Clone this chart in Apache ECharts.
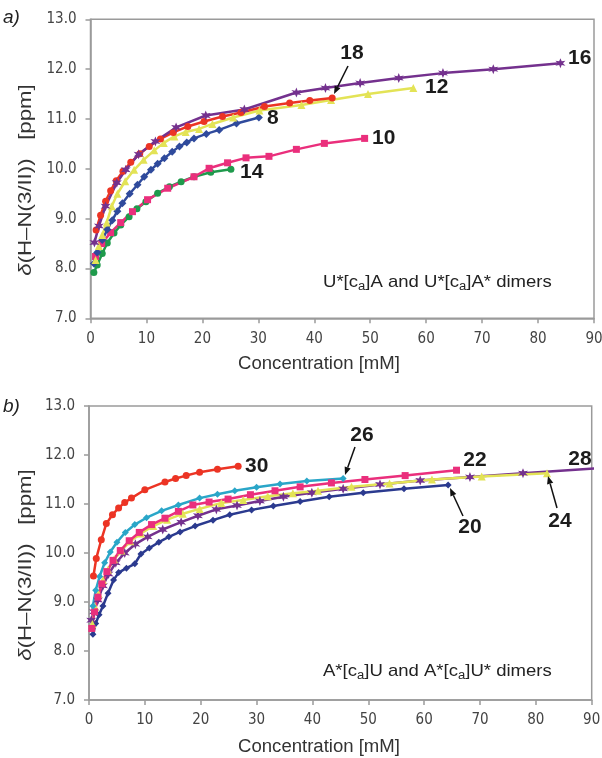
<!DOCTYPE html>
<html><head><meta charset="utf-8">
<script src="https://cdn.jsdelivr.net/npm/echarts@6/dist/echarts.min.js"></script>
<style>html,body{margin:0;padding:0;background:#fff}#c{width:602px;height:758px}</style>
</head><body><div id="c"></div>
<script>
// ---------- Panel a) U*[ca]A dimers ----------
const a16x = [0.7, 1.5, 2.7, 4.7, 6.3, 8.6, 11.6, 15.3, 20.6, 27.5, 36.8, 42.0, 48.2, 55.1, 63.0, 72.0, 84.0];
const a16y = [8.52, 8.85, 9.25, 9.72, 9.98, 10.29, 10.55, 10.83, 11.07, 11.19, 11.53, 11.62, 11.72, 11.82, 11.92, 12.00, 12.12];
const a18x = [1.0, 1.8, 2.7, 3.6, 4.6, 5.8, 7.2, 8.8, 10.5, 12.5, 14.8, 17.4, 20.3, 23.6, 26.9, 31.1, 35.6, 39.2, 43.2];
const a18y = [8.77, 9.07, 9.35, 9.56, 9.76, 9.95, 10.13, 10.30, 10.45, 10.60, 10.73, 10.85, 10.95, 11.05, 11.13, 11.25, 11.32, 11.37, 11.42];
const a12x = [0.9, 1.5, 2.1, 2.9, 3.8, 4.8, 6.2, 7.8, 9.5, 11.4, 13.1, 15.0, 17.0, 19.4, 21.8, 25.5, 30.2, 37.7, 43.0, 49.6, 57.7];
const a12y = [8.17, 8.45, 8.67, 8.92, 9.25, 9.50, 9.75, 9.98, 10.18, 10.37, 10.52, 10.65, 10.74, 10.80, 10.90, 11.03, 11.17, 11.28, 11.38, 11.50, 11.62];
const a8x = [0.6, 1.2, 2.1, 3.0, 3.9, 4.8, 5.7, 7.0, 8.4, 9.6, 10.8, 12.0, 13.2, 14.6, 15.9, 17.2, 18.5, 20.7, 23.0, 26.1, 30.1];
const a8y = [8.10, 8.32, 8.57, 8.78, 8.97, 9.15, 9.31, 9.50, 9.68, 9.84, 9.98, 10.10, 10.21, 10.34, 10.45, 10.53, 10.61, 10.70, 10.78, 10.91, 11.03];
const a10x = [0.9, 2.0, 3.6, 5.4, 7.5, 10.2, 13.8, 18.5, 21.2, 24.5, 27.8, 31.9, 36.8, 41.8, 49.0];
const a10y = [8.24, 8.50, 8.72, 8.92, 9.14, 9.38, 9.61, 9.84, 10.01, 10.12, 10.22, 10.25, 10.39, 10.51, 10.61];
const a14x = [0.6, 1.2, 2.1, 3.0, 4.2, 5.4, 6.9, 8.3, 9.9, 12.0, 14.1, 16.2, 18.5, 21.5, 25.1];
const a14y = [7.92, 8.07, 8.30, 8.51, 8.71, 8.87, 9.04, 9.20, 9.34, 9.51, 9.64, 9.74, 9.84, 9.93, 9.99];

// ---------- Panel b) A*[ca]U dimers ----------
const b30x = [0.8, 1.3, 2.2, 3.1, 4.2, 5.3, 6.4, 7.6, 10.0, 13.6, 15.5, 17.4, 19.8, 23.0, 26.7];
const b30y = [9.53, 9.89, 10.27, 10.60, 10.78, 10.92, 11.03, 11.12, 11.29, 11.45, 11.52, 11.58, 11.65, 11.71, 11.77];
const b26x = [0.7, 1.2, 1.9, 2.8, 3.8, 5.0, 6.5, 8.2, 10.3, 13.0, 16.0, 19.8, 23.0, 26.1, 30.0, 34.2, 39.0, 45.5];
const b26y = [8.92, 9.24, 9.52, 9.80, 10.02, 10.22, 10.42, 10.58, 10.72, 10.86, 10.98, 11.12, 11.20, 11.27, 11.34, 11.41, 11.47, 11.52];
const b22x = [0.5, 1.0, 1.6, 2.3, 3.2, 4.3, 5.6, 7.2, 9.0, 11.2, 13.6, 16.0, 18.6, 21.5, 24.9, 28.9, 33.3, 37.8, 43.4, 49.4, 56.6, 65.8];
const b22y = [8.46, 8.80, 9.10, 9.37, 9.62, 9.85, 10.05, 10.25, 10.42, 10.58, 10.71, 10.85, 10.98, 11.04, 11.10, 11.19, 11.27, 11.35, 11.43, 11.50, 11.58, 11.69];
const b24x = [0.6, 1.1, 1.7, 2.5, 3.4, 4.5, 5.8, 7.4, 9.3, 11.5, 14.0, 16.8, 19.8, 23.7, 27.6, 32.0, 36.5, 41.0, 47.0, 53.8, 61.4, 70.3, 82.0];
const b24y = [8.55, 8.90, 9.17, 9.45, 9.66, 9.87, 10.05, 10.24, 10.40, 10.55, 10.68, 10.80, 10.90, 11.02, 11.08, 11.16, 11.22, 11.27, 11.35, 11.42, 11.50, 11.56, 11.63];
const b28x = [0.4, 0.9, 1.6, 2.5, 3.5, 4.8, 6.4, 8.3, 10.5, 13.2, 16.5, 19.5, 22.8, 26.5, 30.6, 34.8, 39.9, 45.5, 52.1, 59.3, 68.2, 77.7, 95.0];
const b28y = [8.63, 8.80, 9.04, 9.33, 9.57, 9.80, 10.00, 10.18, 10.33, 10.48, 10.63, 10.76, 10.89, 10.97, 11.06, 11.15, 11.23, 11.31, 11.40, 11.48, 11.55, 11.63, 11.76];
const b20x = [0.7, 1.2, 1.8, 2.5, 3.4, 4.4, 5.3, 6.7, 8.2, 9.3, 10.8, 12.5, 14.3, 16.3, 19.0, 22.2, 25.2, 29.1, 33.0, 37.8, 43.0, 49.1, 56.4, 64.3];
const b20y = [8.34, 8.56, 8.74, 8.92, 9.18, 9.45, 9.60, 9.69, 9.78, 9.98, 10.10, 10.22, 10.33, 10.43, 10.55, 10.67, 10.78, 10.88, 10.96, 11.05, 11.15, 11.23, 11.31, 11.39];

// axis ticks
const xTickMin = 0, xTickMax = 90, xTickStep = 10;
const yTickMin = 7, yTickMax = 13, yTickStep = 1;

const COL = {
  purple: '#74318e', red: '#ec3424', yellow: '#e3e356', blue: '#2f4a9c',
  pink: '#ea2f7c', green: '#1f9a4c', cyan: '#2aa6c8', navy: '#2b3a8f'
};
const STAR = 'path://M50,0L61,31L93.3,25L72,50L93.3,75L61,69L50,100L39,69L6.7,75L28,50L6.7,25L39,31Z';

function pts(xs, ys) { return xs.map((x, i) => [x, ys[i]]); }
function ser(xs, ys, color, symbol, size, gi) {
  return {
    type: 'line', xAxisIndex: gi, yAxisIndex: gi, data: pts(xs, ys),
    symbol: symbol, symbolSize: size, showSymbol: true, clip: true, silent: true,
    lineStyle: { color: color, width: 2.5 }, itemStyle: { color: color, borderWidth: 0 }
  };
}
function xAx(gi) {
  return {
    type: 'value', gridIndex: gi, min: xTickMin, max: xTickMax, interval: xTickStep,
    axisLine: { show: true, lineStyle: { color: '#9a9a9a', width: 1.5 } },
    axisTick: { show: true, length: 5, lineStyle: { color: '#9a9a9a', width: 1.5 } },
    axisLabel: { color: '#444', fontFamily: 'DejaVu Sans Condensed, DejaVu Sans', fontSize: 15, margin: 13 },
    splitLine: { show: false }
  };
}
function yAx(gi) {
  return {
    type: 'value', gridIndex: gi, min: yTickMin, max: yTickMax, interval: yTickStep,
    axisLine: { show: true, lineStyle: { color: '#9a9a9a', width: 1.5 } },
    axisTick: { show: true, length: 5, lineStyle: { color: '#9a9a9a', width: 1.5 } },
    axisLabel: { color: '#444', fontFamily: 'DejaVu Sans Condensed, DejaVu Sans', fontSize: 15, margin: 14,
      formatter: v => v.toFixed(1) },
    splitLine: { show: false }
  };
}

function lab(text, x, y, align) {
  return { type: 'text', x: x, y: y, z: 100, silent: true,
    style: { text: text, fontFamily: 'Liberation Sans', fontWeight: 'bold', fontSize: 21, fill: '#1c1c1c',
      align: align || 'left', verticalAlign: 'middle' } };
}
function arrow(x1, y1, x2, y2) {
  const a = Math.atan2(y2 - y1, x2 - x1), L = 8, W = 3.2;
  const bx = x2 - L * Math.cos(a), by = y2 - L * Math.sin(a);
  const px = -Math.sin(a) * W, py = Math.cos(a) * W;
  return [
    { type: 'line', z: 100, silent: true, shape: { x1: x1, y1: y1, x2: bx, y2: by }, style: { stroke: '#111', lineWidth: 1.5 } },
    { type: 'polygon', z: 100, silent: true, shape: { points: [[x2, y2], [bx + px, by + py], [bx - px, by - py]] }, style: { fill: '#111' } }
  ];
}
function ytitle(cx, cy) {
  return { type: 'text', x: cx, y: cy, rotation: Math.PI / 2, scaleX: 1.17, z: 100, silent: true,
    style: { text: '{i|δ}(H–N(3/II))   [ppm]', fontFamily: 'Liberation Sans', fontSize: 19, fill: '#333',
      align: 'center', verticalAlign: 'middle', rich: { i: { fontStyle: 'italic', fontFamily: 'Liberation Sans', fontSize: 19, fill: '#333' } } } };
}
function xtitle(cx, cy) {
  return { type: 'text', x: cx, y: cy, scaleX: 1.03, z: 100, silent: true,
    style: { text: 'Concentration [mM]', fontFamily: 'Liberation Sans', fontSize: 18, fill: '#333', align: 'center', verticalAlign: 'middle' } };
}
function dimers(text, x, y) {
  return { type: 'text', x: x, y: y, scaleX: 1.09, z: 100, silent: true,
    style: { text: text, fontFamily: 'Liberation Sans', fontSize: 17, fill: '#222', align: 'left', verticalAlign: 'middle',
      rich: { n: { fontFamily: 'Liberation Sans', fontSize: 17, fill: '#222' },
              s: { fontFamily: 'Liberation Sans', fontSize: 12, fill: '#222', padding: [9, 0, 0, 0] } } } };
}
function panelLabel(t, x, y) {
  return { type: 'text', x: x, y: y, z: 100, silent: true,
    style: { text: t, fontFamily: 'Liberation Sans', fontStyle: 'italic', fontSize: 19, fill: '#222', align: 'left', verticalAlign: 'middle' } };
}

const graphics = [].concat(
  [panelLabel('a)', 3, 18), panelLabel('b)', 3, 407)],
  [ytitle(26, 180), ytitle(26, 565)],
  [xtitle(319, 364), xtitle(319, 747)],
  [dimers('{n|U*[c}{s|a}{n|]A and U*[c}{s|a}{n|]A* dimers}', 323, 282),
   dimers('{n|A*[c}{s|a}{n|]U and A*[c}{s|a}{n|]U* dimers}', 323, 671)],
  [lab('18', 352, 53, 'center'), lab('16', 568, 58), lab('12', 425, 87), lab('10', 372, 138), lab('8', 267, 118), lab('14', 240, 172)],
  arrow(348, 66, 334, 94),
  [lab('30', 245, 466), lab('26', 362, 435, 'center'), lab('22', 475, 460, 'center'), lab('28', 580, 459, 'center'),
   lab('20', 470, 527, 'center'), lab('24', 560, 521, 'center')],
  arrow(355, 447, 345, 475), arrow(463, 516, 450, 488), arrow(557, 508, 548, 476)
);

const chart = echarts.init(document.getElementById('c'), null, { renderer: 'canvas' });
chart.setOption({
  animation: false,
  backgroundColor: '#fff',
  grid: [
    { left: 90.5, top: 19.3, width: 503.5, height: 299, show: true, borderColor: '#9a9a9a', borderWidth: 1.5, backgroundColor: 'transparent', outerBoundsMode: 'none' },
    { left: 89, top: 406, width: 502.7, height: 294, show: true, borderColor: '#9a9a9a', borderWidth: 1.5, backgroundColor: 'transparent', outerBoundsMode: 'none' }
  ],
  xAxis: [xAx(0), xAx(1)],
  yAxis: [yAx(0), yAx(1)],
  series: [
    ser(a14x, a14y, COL.green, 'circle', 7, 0),
    ser(a10x, a10y, COL.pink, 'rect', 7, 0),
    ser(a8x, a8y, COL.blue, 'diamond', 8, 0),
    ser(a12x, a12y, COL.yellow, 'triangle', 8, 0),
    ser(a18x, a18y, COL.red, 'circle', 7, 0),
    ser(a16x, a16y, COL.purple, STAR, 10, 0),
    ser(b20x, b20y, COL.navy, 'diamond', 7, 1),
    ser(b28x, b28y, COL.purple, STAR, 10, 1),
    ser(b24x, b24y, COL.yellow, 'triangle', 8, 1),
    ser(b22x, b22y, COL.pink, 'rect', 7, 1),
    ser(b26x, b26y, COL.cyan, 'diamond', 7, 1),
    ser(b30x, b30y, COL.red, 'circle', 7, 1)
  ],
  graphic: graphics
});
</script>
</body></html>
